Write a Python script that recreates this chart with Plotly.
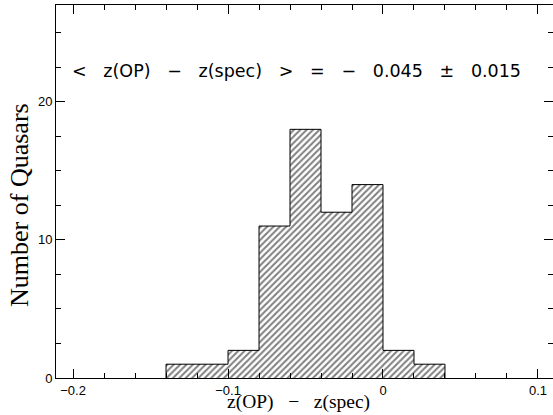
import plotly.graph_objects as go

# Histogram data: bin left edges (width 0.02) and counts
bin_left = [-0.14, -0.12, -0.10, -0.08, -0.06, -0.04, -0.02, 0.00, 0.02]
bin_width = 0.02
counts = [1, 1, 2, 11, 18, 12, 14, 2, 1]

x_tick_vals = [-0.2, -0.1, 0.0, 0.1]
y_tick_vals = [0, 10, 20]

annotation_text = "<   z(OP)   \u2212   z(spec)   >   =   \u2212   0.045   \u00b1   0.015"
x_title = "z(OP)   \u2212   z(spec)"
y_title = "Number of Quasars"

centers = [b + bin_width / 2 for b in bin_left]
edges = bin_left + [bin_left[-1] + bin_width]

# step outline built from the same bins
step_x = [edges[0]] + edges[:-1] + [edges[-1]]
step_y = [0] + counts + [0]

fig = go.Figure()
fig.add_trace(go.Bar(
    x=centers, y=counts, width=bin_width,
    marker=dict(color="white", line=dict(width=0),
                pattern=dict(shape="/", fgcolor="black", bgcolor="white",
                             size=4.5, solidity=0.45)),
    hoverinfo="skip", showlegend=False,
))
fig.add_trace(go.Scatter(
    x=step_x, y=step_y, mode="lines", line=dict(color="black", width=1, shape="hv"),
    hoverinfo="skip", showlegend=False,
))

fig.add_annotation(
    x=-0.0555, y=22.2, xref="x", yref="y", text=annotation_text, showarrow=False,
    font=dict(family="DejaVu Sans", size=17.5, color="black"),
)
fig.add_annotation(
    x=0.487, y=-0.0977, xref="paper", yref="paper", text=x_title,
    showarrow=False, xanchor="center", yanchor="bottom", borderpad=0,
    font=dict(family="Liberation Serif", size=19.5, color="black"),
)
fig.add_annotation(
    x=-0.0724, y=0.464, xref="paper", yref="paper", text=y_title,
    showarrow=False, xanchor="center", yanchor="middle", textangle=-90,
    font=dict(family="Liberation Serif", size=26, color="black"),
)

axis_common = dict(
    showline=True, linecolor="black", linewidth=1, mirror="allticks",
    ticks="inside", ticklen=9, tickwidth=1, tickcolor="black",
    showgrid=False, zeroline=False, automargin=False,
    tickfont=dict(family="Liberation Sans", size=13, color="black"),
)

fig.update_xaxes(
    range=[-0.211, 0.1097], tickmode="array", tickvals=x_tick_vals,
    minor=dict(ticks="inside", ticklen=5, dtick=0.02, tick0=0, tickcolor="black", showgrid=False),
    **axis_common,
)
fig.update_yaxes(
    range=[0, 27], tickmode="array", tickvals=y_tick_vals,
    minor=dict(ticks="inside", ticklen=5, dtick=2.5, tick0=0, tickcolor="black", showgrid=False),
    **axis_common,
)

fig.update_layout(
    width=553, height=415,
    margin=dict(l=56, r=0, t=5, b=37),
    paper_bgcolor="white", plot_bgcolor="white",
    bargap=0,
)

fig.write_html("out.html", config={"displayModeBar": False},
               post_script="document.body.style.margin='0';")
